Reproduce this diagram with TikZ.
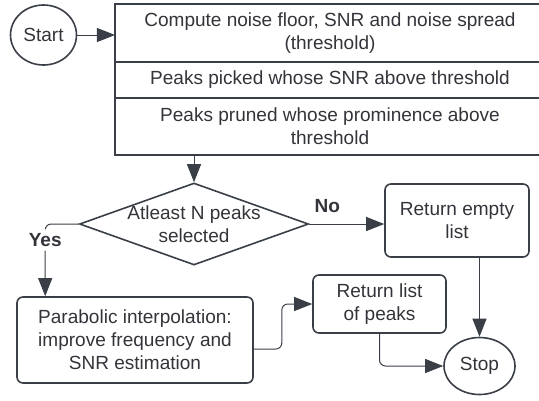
\documentclass[tikz,border=0pt]{standalone}
\usepackage{fontspec}
\setmainfont{Liberation Sans}
\usetikzlibrary{shapes.geometric,arrows.meta,positioning}
\definecolor{lcgray}{RGB}{58,63,71}
\definecolor{lctext}{RGB}{50,52,58}
\newcommand{\lcfont}{\fontsize{19.1}{23}\selectfont}
\tikzset{
  termnode/.style={ellipse,draw=lcgray,line width=1.6bp,text=lctext,
    inner sep=0pt,font=\lcfont},
  cellblock/.style={rectangle,draw=lcgray,line width=2bp,text=lctext,
    minimum width=430bp,outer sep=0pt,inner sep=0pt,align=center,
    font=\lcfont},
  stepblock/.style={rectangle,draw=lcgray,line width=1.6bp,
    rounded corners=6bp,text=lctext,align=center,inner sep=0pt,
    font=\lcfont},
  decblock/.style={diamond,draw=lcgray,line width=1.6bp,aspect=2.8,
    inner sep=-4bp,minimum width=229bp,minimum height=82bp,
    align=center,text=lctext,font=\lcfont},
  darrow/.style={-{Triangle[length=18bp,width=14bp]},line width=1bp,
    draw=lcgray},
  annot/.style={font=\lcfont\bfseries,text=lctext}
}
\begin{document}
\begin{tikzpicture}[x=1bp,y=-1bp,node distance=0pt]
  \path[use as bounding box,clip] (0,0) rectangle (539,400);

  \node[termnode,minimum width=66bp,minimum height=60bp] (start) at (43.5,35) {Start};

  % stacked cells of the first step
  \node[cellblock,minimum height=58bp] (cell1) at (330,33)
    {Compute noise floor, SNR and noise spread\\(threshold)};
  \node[cellblock,minimum height=36bp,below=of cell1] (cell2)
    {Peaks picked whose SNR above threshold};
  \node[cellblock,minimum height=57bp,below=of cell2] (cell3)
    {Peaks pruned whose prominence above\\threshold};

  \node[decblock] (dec) at (194,224) {Atleast N peaks\\selected};
  \node[stepblock,minimum width=144bp,minimum height=73bp] (retempty) at (457,220.5)
    {Return empty\\list};
  \node[stepblock,minimum width=236bp,minimum height=86bp] (para) at (135,340)
    {Parabolic interpolation:\\improve frequency and\\SNR estimation};
  \node[stepblock,minimum width=133bp,minimum height=58bp] (retlist) at (379.5,304)
    {Return list\\of peaks};
  \node[termnode,minimum width=71bp,minimum height=57bp] (stop) at (479.5,366) {Stop};

  \draw[darrow] (start.east) -- (start.east -| cell1.west);
  \draw[darrow] (cell3.south -| dec.north) -- (dec.north);
  \draw[darrow] (dec.east) -- node[annot,above=8bp,pos=0.24] {No} (dec.east -| retempty.west);
  \draw[darrow,rounded corners=6bp] (dec.west) -|
    node[annot,pos=0.61,fill=white,inner xsep=2bp,inner ysep=4bp] {Yes}
    ([xshift=29bp]para.north west);
  \draw[darrow,rounded corners=6bp] ([yshift=-9bp]para.east) -- ++(28,0) |- (retlist.west);
  \draw[darrow,rounded corners=6bp] (retlist.south) |- (stop.west);
  \draw[darrow] (retempty.south -| stop.north) -- (stop.north);
\end{tikzpicture}
\end{document}
